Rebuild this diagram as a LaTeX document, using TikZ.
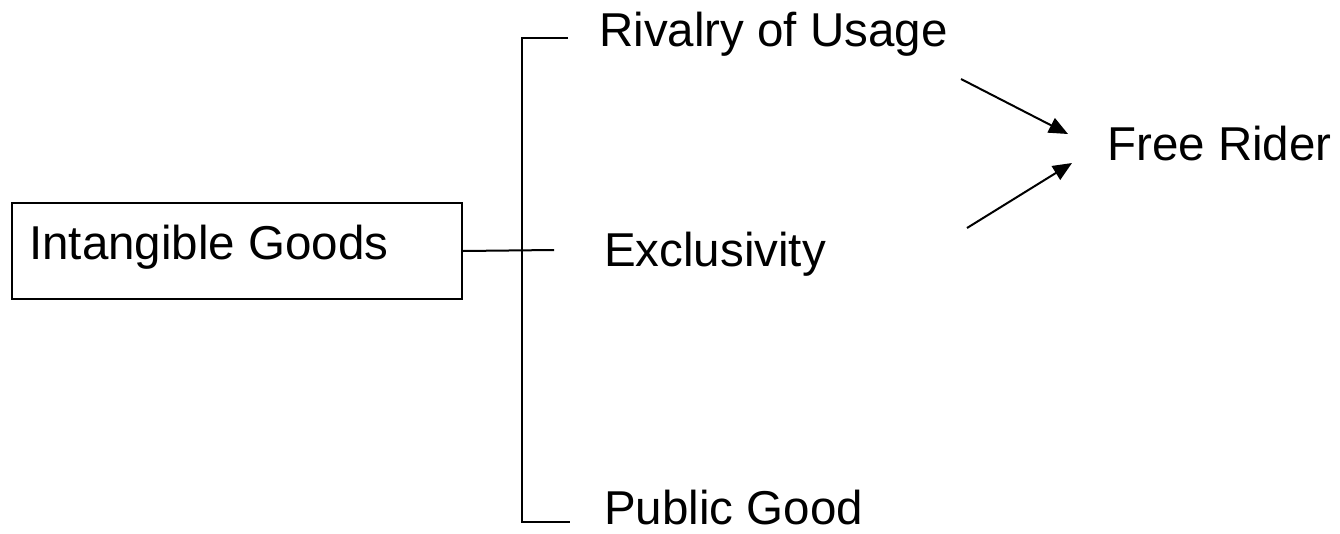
\documentclass[tikz,border=0pt]{standalone}
\usepackage{fontspec}
\setmainfont{Liberation Sans}
\usetikzlibrary{arrows.meta}
\begin{document}
\begin{tikzpicture}[x=1pt,y=-1pt,
  wire/.style={line width=2pt},
  lbl/.style={inner sep=0pt,anchor=base west,font=\fontsize{47.5pt}{56pt}\selectfont},
  frame/.style={draw,line width=2pt,inner sep=0pt,anchor=north west,minimum width=450pt,minimum height=96pt},
  arr/.style={line width=2pt,-{Triangle[length=19pt,width=16pt]}}]
\useasboundingbox (0,0) rectangle (1340,533);
% box on the left
\node[frame] (ig) at (11,202) {};
\node[lbl] (igtxt) at (29,259) {Intangible Goods};
% labels of the bracket
\node[lbl] (rival) at (599,46) {Rivalry of Usage};
\node[lbl] (excl) at (604,266) {Exclusivity};
\node[lbl] (pub) at (604,524) {Public Good};
\node[lbl] (free) at (1107,160) {Free Rider};
% bracket
\coordinate (btop) at (522,38);
\coordinate (bbot) at (522,522);
\coordinate (ttop) at (568,38);
\coordinate (tbot) at (570,522);
\coordinate (tmid) at (554,250);
\draw[wire] (ttop) -- (btop) -- (bbot) -- (tbot);
\draw[wire] (ig.east) -- (tmid);
% arrows into Free Rider
\coordinate (a1s) at (961,79);
\coordinate (a1e) at (1068,134);
\coordinate (a2s) at (967,228);
\coordinate (a2e) at (1072,163);
\draw[arr] (a1s) -- (a1e);
\draw[arr] (a2s) -- (a2e);
\end{tikzpicture}
\end{document}
